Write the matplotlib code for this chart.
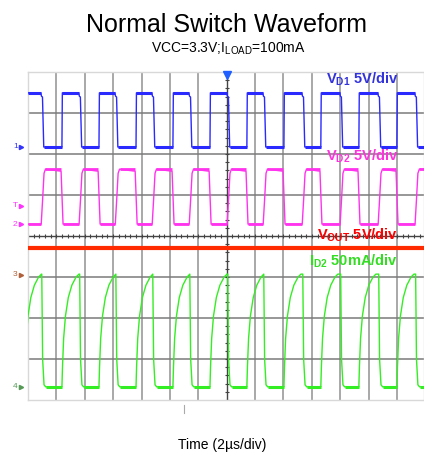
import numpy as np
import matplotlib
matplotlib.use("Agg")
import matplotlib.pyplot as plt

plt.rcParams['font.family'] = ['Liberation Sans', 'DejaVu Sans']
plt.rcParams['mathtext.fontset'] = 'custom'
plt.rcParams['mathtext.rm'] = 'Liberation Sans'
plt.rcParams['mathtext.bf'] = 'Liberation Sans:bold'
plt.rcParams['mathtext.it'] = 'Liberation Sans'

# ---------------- data (time in us, signal in screen divisions) ----------------
title = "Normal Switch Waveform"
subtitle = r"VCC=3.3V;I$_{\mathrm{LOAD}}$=100mA"
xlabel = "Time (2µs/div)"

rise_us = [-0.25, 2.39, 5.00, 7.61, 10.21, 12.82, 15.42, 18.03, 20.63, 23.31, 25.99]
fall_us = [1.05, 3.72, 6.27, 8.87, 11.48, 14.15, 16.69, 19.44, 22.11, 24.79, 27.39]

vd1_high, vd1_low = 3.49, 2.17
vd2_high, vd2_low = 1.63, 0.29
vout_level = -0.29
id2_low = -3.68
# ID2 rise shape read from one pulse (offset after rise in us, level in div)
id2_rise_off = [0.0, 0.04, 0.12, 0.25, 0.45, 0.70, 1.00, 1.20]
id2_rise_val = [-3.68, -3.20, -2.50, -1.95, -1.50, -1.20, -1.00, -0.93]

t_end = 27.9
labels = [r"$\mathbf{V_{D1}\ 5V/div}$", r"$\mathbf{V_{D2}\ 5V/div}$",
          r"$\mathbf{V_{OUT}\ 5V/div}$", r"$\mathbf{I_{D2}\ 50mA/div}$"]

c_blue, c_pink, c_red, c_green = '#2a2aff', '#ff33ee', '#ff2a00', '#33ee22'

# ---------------- build traces ----------------
def build_vd1():
    t, v = [0.0], [vd1_high]
    for i, (r, f) in enumerate(zip(rise_us, fall_us)):
        if r > 0:
            t += [r, r + 0.03]; v += [vd1_low, vd1_high]
        t += [f - 0.15, f - 0.10, f - 0.03, f + 0.06]
        v += [vd1_high, vd1_high - 0.08, vd1_high - 0.10, vd1_low]
    t.append(t_end); v.append(vd1_low)
    return t, v

def build_vd2():
    t, v = [0.0], [vd2_low]
    for i, (r, f) in enumerate(zip(rise_us, fall_us)):
        if r > 0:
            t += [r - 0.06, r + 0.08]; v += [vd2_high - 0.05, vd2_low]
        t += [f - 0.12, f - 0.02, f + 0.08, f + 0.18]
        v += [vd2_low, vd2_low + 0.6, vd2_high - 0.1, vd2_high]
    t.append(t_end); v.append(vd2_high)
    return t, v

def build_id2():
    t, v = [], []
    for r, f in zip(rise_us, fall_us):
        for o, val in zip(id2_rise_off, id2_rise_val):
            if r + o < f - 0.08:
                t.append(r + o); v.append(val)
        t += [f - 0.08, f - 0.02, f + 0.08, f + 0.2]
        v += [id2_rise_val[-1], -3.0, id2_low + 0.05, id2_low]
    t.append(t_end); v.append(id2_low)
    return t, v

def level_segments(ax, starts, ends, level, color, lw):
    for a, b in zip(starts, ends):
        a, b = max(a, 0.0), min(b, t_end)
        if b > a:
            ax.plot([a, b], [level, level], color=color, lw=lw, zorder=3,
                    solid_capstyle='butt')

# ---------------- figure ----------------
fig = plt.figure(figsize=(4.24, 4.55), dpi=100)
W, H = 424, 455
x0, x1, y0, y1 = 28, 424, 72, 400
ax = fig.add_axes([x0 / W, 1 - y1 / H, (x1 - x0) / W, (y1 - y0) / H])
ax.set_xlim(0, t_end)
ax.set_ylim(-4, 4)
ax.set_xticks([]); ax.set_yticks([])
for s in ax.spines.values():
    s.set_color('#d8d8d8'); s.set_linewidth(1.0)

# grid
for gx in np.arange(2, 28, 2):
    if gx != 14:
        ax.axvline(gx, color='#a8a8a8', lw=1.4, zorder=1)
ax.axvline(0, color='#b0b0b0', lw=1.4, zorder=1)
for gy in range(-3, 4):
    if gy != 0:
        ax.axhline(gy, color='#7a7a7a', lw=1.1, zorder=1)
# center axes with minor ticks
ax.axhline(0, color='#444444', lw=1.0, zorder=1)
ax.axvline(14, color='#444444', lw=1.0, zorder=1)
mx = np.arange(0, t_end, 0.4)
ax.plot(mx, np.zeros_like(mx), ls='none', marker='|', ms=3, color='#444444', mew=0.8, zorder=1)
my = np.arange(-4, 4.01, 0.2)
ax.plot(np.full_like(my, 14), my, ls='none', marker='_', ms=3, color='#444444', mew=0.8, zorder=1)
# trigger marker
ax.plot([14], [3.93], marker='v', ms=6, color='#1f5fff', clip_on=False, zorder=5)

# traces
t, v = build_vd1(); ax.plot(t, v, color=c_blue, lw=1.0, zorder=3)
level_segments(ax, [0.0] + rise_us[1:], [f - 0.12 for f in fall_us], vd1_high, c_blue, 2.2)
level_segments(ax, [f + 0.06 for f in fall_us], rise_us[1:] + [t_end], vd1_low, c_blue, 2.2)
t, v = build_vd2(); ax.plot(t, v, color=c_pink, lw=1.0, zorder=3)
level_segments(ax, [f + 0.18 for f in fall_us], [r - 0.06 for r in rise_us[1:]] + [t_end],
               vd2_high, c_pink, 2.0)
level_segments(ax, [0.0] + [r + 0.08 for r in rise_us[1:]], [f - 0.12 for f in fall_us],
               vd2_low, c_pink, 2.0)
t, v = build_id2(); ax.plot(t, v, color=c_green, lw=1.0, zorder=3)
level_segments(ax, [f + 0.2 for f in fall_us], rise_us[1:] + [t_end], id2_low, c_green, 2.2)
ax.plot([0, t_end], [vout_level, vout_level], color=c_red, lw=3.0, zorder=3)

# trace labels
def ax_y(py):
    return (y1 - py) / (y1 - y0)
def ax_x(px):
    return (px - x0) / (x1 - x0)
lab_pos = [(84, '#3333dd'), (161, '#ff33dd'), (240, '#ff0000'), (266, '#33dd22')]
for lab, (py, col) in zip(labels, lab_pos):
    ax.text(ax_x(398), ax_y(py), lab, transform=ax.transAxes, ha='right', va='baseline',
            fontsize=10.5, color=col, zorder=6)

# channel markers on the left
markers = [("1", 147, '#3333ff'), ("T", 206, '#ff33ff'), ("2", 224, '#ff33ff'),
           ("3", 275, '#b0603a'), ("4", 387, '#559955')]
for txt, py, col in markers:
    fig.text(13 / W, 1 - py / H, txt, ha='left', va='center', fontsize=6, color=col)
    fig.lines.append(plt.Line2D([21 / W], [1 - py / H], marker='>', ms=3, color=col,
                                transform=fig.transFigure))

# small tick below plot
fig.lines.append(plt.Line2D([184 / W, 184 / W], [1 - 405 / H, 1 - 413 / H],
                            color='#aaaaaa', lw=0.8, transform=fig.transFigure))

fig.text(227 / W, 1 - 32 / H, title, ha='center', va='baseline', fontsize=18)
fig.text(228 / W, 1 - 53 / H, subtitle, ha='center', va='baseline', fontsize=10)
fig.text(222 / W, 1 - 449 / H, xlabel, ha='center', va='baseline', fontsize=10)

fig.savefig("out.png", dpi=100)
